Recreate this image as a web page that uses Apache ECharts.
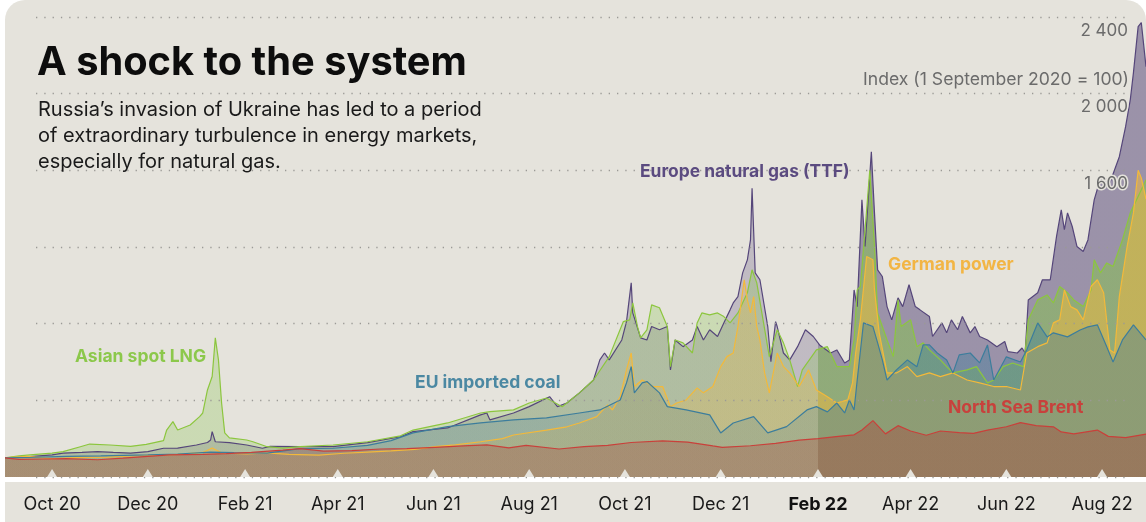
<!DOCTYPE html>
<html><head><meta charset="utf-8">
<script src="https://cdn.jsdelivr.net/npm/echarts@6/dist/echarts.min.js"></script>
<style>html,body{margin:0;padding:0;background:#ffffff;}#c{width:1146px;height:522px;}</style>
</head><body><div id="c"></div>
<script>
const START = '2020-09-01', END = '2022-08-29', SHADE_FROM = '2022-02-01';
const tickDates = ['2020-10-01','2020-12-01','2021-02-01','2021-04-01','2021-06-01','2021-08-01','2021-10-01','2021-12-01','2022-02-01','2022-04-01','2022-06-01','2022-08-01'];
const tickLabels = ['Oct 20','Dec 20','Feb 21','Apr 21','Jun 21','Aug 21','Oct 21','Dec 21','Feb 22','Apr 22','Jun 22','Aug 22'];
const yShown = [1600, 2000, 2400];

const ttf = [['2020-09-01',100],['2020-09-10',104],['2020-09-17',106],['2020-10-01',115],['2020-10-08',125],['2020-10-20',128],['2020-10-30',132],['2020-11-09',128],['2020-11-20',125],['2020-12-01',132],['2020-12-11',150],['2020-12-20',151],['2021-01-01',167],['2021-01-08',180],['2021-01-10',193],['2021-01-11',237],['2021-01-13',184],['2021-01-22',179],['2021-02-02',167],['2021-02-12',150],['2021-02-17',160],['2021-03-08',158],['2021-03-29',158],['2021-04-20',179],['2021-05-11',210],['2021-05-19',237],['2021-06-10',256],['2021-07-01',324],['2021-07-05',334],['2021-07-07',298],['2021-07-22',334],['2021-08-01',367],['2021-08-14',419],['2021-08-19',367],['2021-08-25',386],['2021-09-02',439],['2021-09-11',506],['2021-09-15',611],['2021-09-18',647],['2021-09-21',611],['2021-09-29',715],['2021-10-02',811],['2021-10-05',1013],['2021-10-06',856],['2021-10-11',726],['2021-10-15',715],['2021-10-18',785],['2021-10-23',768],['2021-10-28',785],['2021-10-30',559],['2021-11-02',715],['2021-11-07',680],['2021-11-13',715],['2021-11-16',785],['2021-11-20',715],['2021-11-24',768],['2021-11-29',733],['2021-12-03',804],['2021-12-07',872],['2021-12-09',908],['2021-12-12',941],['2021-12-15',1065],['2021-12-18',1133],['2021-12-20',1237],['2021-12-21',1507],['2021-12-23',1065],['2021-12-26',1029],['2021-12-31',785],['2022-01-02',602],['2022-01-05',811],['2022-01-06',785],['2022-01-10',647],['2022-01-14',611],['2022-01-19',680],['2022-01-24',768],['2022-01-29',733],['2022-02-02',689],['2022-02-09',647],['2022-02-13',663],['2022-02-18',595],['2022-02-21',611],['2022-02-24',976],['2022-02-26',889],['2022-03-01',1446],['2022-03-03',1203],['2022-03-07',1697],['2022-03-09',1378],['2022-03-11',1081],['2022-03-14',1046],['2022-03-17',889],['2022-03-20',820],['2022-03-24',935],['2022-03-27',889],['2022-03-31',1003],['2022-04-04',889],['2022-04-07',872],['2022-04-13',837],['2022-04-15',733],['2022-04-21',804],['2022-04-24',752],['2022-04-27',820],['2022-05-01',768],['2022-05-04',837],['2022-05-09',752],['2022-05-12',785],['2022-05-15',733],['2022-05-20',715],['2022-05-26',680],['2022-05-31',707],['2022-06-02',654],['2022-06-08',647],['2022-06-11',673],['2022-06-13',647],['2022-06-15',924],['2022-06-21',961],['2022-06-24',1029],['2022-06-29',1029],['2022-07-03',1255],['2022-07-06',1394],['2022-07-08',1290],['2022-07-10',1378],['2022-07-13',1307],['2022-07-16',1203],['2022-07-20',1177],['2022-07-23',1237],['2022-07-27',1446],['2022-07-30',1530],['2022-08-02',1567],['2022-08-06',1535],['2022-08-12',1671],['2022-08-16',1828],['2022-08-19',1969],['2022-08-21',2110],['2022-08-24',2350],['2022-08-26',2371],['2022-08-29',2141]];

const lng = [['2020-09-01',100],['2020-09-10',110],['2020-09-17',115],['2020-10-01',125],['2020-10-08',132],['2020-10-19',158],['2020-10-25',172],['2020-11-07',167],['2020-11-20',160],['2020-11-30',170],['2020-12-11',190],['2020-12-13',245],['2020-12-17',289],['2020-12-20',245],['2020-12-28',271],['2021-01-03',315],['2021-01-05',334],['2021-01-08',454],['2021-01-11',524],['2021-01-13',726],['2021-01-15',611],['2021-01-17',386],['2021-01-19',230],['2021-01-22',204],['2021-02-02',193],['2021-02-06',184],['2021-02-15',158],['2021-02-25',151],['2021-03-08',158],['2021-03-29',167],['2021-04-20',184],['2021-05-11',215],['2021-05-19',245],['2021-06-10',282],['2021-07-01',334],['2021-07-07',341],['2021-07-22',350],['2021-08-01',386],['2021-08-12',412],['2021-08-22',367],['2021-09-02',439],['2021-09-11',506],['2021-09-21',628],['2021-09-30',811],['2021-10-04',820],['2021-10-06',908],['2021-10-09',785],['2021-10-11',726],['2021-10-15',768],['2021-10-18',898],['2021-10-23',883],['2021-10-28',785],['2021-10-30',576],['2021-11-02',715],['2021-11-07',700],['2021-11-13',647],['2021-11-16',804],['2021-11-19',856],['2021-11-24',846],['2021-11-29',856],['2021-12-03',837],['2021-12-07',804],['2021-12-12',856],['2021-12-18',961],['2021-12-21',1081],['2021-12-24',1013],['2021-12-28',820],['2022-01-01',628],['2022-01-06',768],['2022-01-10',700],['2022-01-14',611],['2022-01-19',472],['2022-01-22',559],['2022-01-31',663],['2022-02-07',680],['2022-02-13',576],['2022-02-21',576],['2022-02-24',715],['2022-02-26',976],['2022-02-28',994],['2022-03-03',1290],['2022-03-06',1600],['2022-03-09',1203],['2022-03-11',856],['2022-03-17',715],['2022-03-21',628],['2022-03-24',924],['2022-03-26',785],['2022-04-01',820],['2022-04-05',680],['2022-04-09',700],['2022-04-13',663],['2022-04-20',611],['2022-04-24',576],['2022-04-28',543],['2022-05-07',559],['2022-05-13',576],['2022-05-20',491],['2022-05-24',506],['2022-05-30',576],['2022-06-05',595],['2022-06-12',576],['2022-06-15',820],['2022-06-21',924],['2022-06-27',950],['2022-07-01',908],['2022-07-05',994],['2022-07-10',961],['2022-07-14',924],['2022-07-20',889],['2022-07-25',976],['2022-07-27',1133],['2022-07-31',1065],['2022-08-04',1117],['2022-08-08',1098],['2022-08-14',1237],['2022-08-19',1378],['2022-08-23',1446],['2022-08-29',1551]];

const power = [['2020-09-01',100],['2020-09-15',108],['2020-10-01',96],['2020-10-20',102],['2020-11-05',104],['2020-11-20',110],['2020-12-05',114],['2020-12-20',118],['2021-01-05',128],['2021-01-11',151],['2021-01-17',126],['2021-02-02',120],['2021-02-15',126],['2021-03-01',118],['2021-03-20',114],['2021-04-05',124],['2021-04-20',130],['2021-05-05',136],['2021-05-20',144],['2021-06-02',158],['2021-06-15',168],['2021-07-01',184],['2021-07-15',200],['2021-07-22',219],['2021-08-12',245],['2021-08-25',262],['2021-09-02',282],['2021-09-13',315],['2021-09-17',350],['2021-09-20',376],['2021-09-23',350],['2021-09-28',419],['2021-10-02',559],['2021-10-05',647],['2021-10-07',472],['2021-10-12',506],['2021-10-19',472],['2021-10-25',472],['2021-10-30',367],['2021-11-03',386],['2021-11-09',402],['2021-11-16',465],['2021-11-20',439],['2021-11-26',472],['2021-12-01',576],['2021-12-05',628],['2021-12-09',647],['2021-12-12',785],['2021-12-16',1029],['2021-12-18',924],['2021-12-20',856],['2021-12-22',941],['2021-12-24',785],['2021-12-26',715],['2021-12-29',543],['2022-01-01',439],['2022-01-06',647],['2022-01-10',576],['2022-01-14',543],['2022-01-20',472],['2022-01-26',559],['2022-01-31',454],['2022-02-07',419],['2022-02-13',386],['2022-02-20',402],['2022-02-23',491],['2022-02-25',647],['2022-02-28',820],['2022-03-04',1150],['2022-03-08',1133],['2022-03-09',976],['2022-03-12',752],['2022-03-17',543],['2022-03-23',543],['2022-03-30',576],['2022-04-05',524],['2022-04-13',543],['2022-04-20',524],['2022-04-28',543],['2022-05-07',506],['2022-05-15',491],['2022-05-24',472],['2022-06-01',472],['2022-06-10',454],['2022-06-14',647],['2022-06-21',680],['2022-06-27',700],['2022-07-01',804],['2022-07-05',820],['2022-07-08',976],['2022-07-12',889],['2022-07-16',872],['2022-07-20',820],['2022-07-25',994],['2022-07-29',1029],['2022-08-02',961],['2022-08-06',663],['2022-08-09',647],['2022-08-12',941],['2022-08-17',1203],['2022-08-21',1378],['2022-08-24',1600],['2022-08-26',1560],['2022-08-29',1450]];

const coal = [['2020-09-01',100],['2020-09-20',103],['2020-10-10',108],['2020-11-01',110],['2020-12-01',115],['2020-12-20',120],['2021-01-10',130],['2021-01-25',127],['2021-02-15',125],['2021-03-08',148],['2021-03-29',150],['2021-04-20',165],['2021-05-05',190],['2021-05-19',230],['2021-06-10',263],['2021-07-01',282],['2021-07-22',298],['2021-08-12',308],['2021-09-02',334],['2021-09-15',350],['2021-09-28',402],['2021-10-02',491],['2021-10-05',576],['2021-10-07',439],['2021-10-12',491],['2021-10-15',498],['2021-10-23',439],['2021-10-28',367],['2021-11-09',350],['2021-11-24',324],['2021-12-01',230],['2021-12-09',282],['2021-12-22',315],['2021-12-31',230],['2022-01-12',263],['2022-01-25',350],['2022-01-31',367],['2022-02-07',340],['2022-02-13',386],['2022-02-18',334],['2022-02-21',402],['2022-02-24',350],['2022-02-26',506],['2022-03-02',804],['2022-03-08',785],['2022-03-11',700],['2022-03-14',611],['2022-03-17',506],['2022-03-23',559],['2022-03-30',611],['2022-04-05',575],['2022-04-09',689],['2022-04-13',689],['2022-04-18',647],['2022-04-24',611],['2022-04-28',543],['2022-05-02',637],['2022-05-09',647],['2022-05-15',595],['2022-05-20',689],['2022-05-24',506],['2022-06-01',627],['2022-06-10',600],['2022-06-14',663],['2022-06-21',804],['2022-06-27',731],['2022-07-01',752],['2022-07-10',731],['2022-07-18',767],['2022-07-23',783],['2022-07-29',794],['2022-08-04',679],['2022-08-08',600],['2022-08-14',715],['2022-08-21',794],['2022-08-29',715]];

const brent = [['2020-09-01',100],['2020-09-10',92],['2020-09-25',94],['2020-10-10',96],['2020-10-30',90],['2020-11-15',98],['2020-12-01',108],['2020-12-15',115],['2021-01-05',118],['2021-01-20',122],['2021-02-05',128],['2021-02-25',140],['2021-03-08',148],['2021-03-23',135],['2021-04-10',138],['2021-04-28',146],['2021-05-15',148],['2021-06-02',155],['2021-06-20',162],['2021-07-05',168],['2021-07-19',152],['2021-07-30',165],['2021-08-20',146],['2021-09-05',158],['2021-09-20',165],['2021-10-05',180],['2021-10-25',188],['2021-11-10',182],['2021-11-26',162],['2021-12-02',155],['2021-12-20',163],['2022-01-05',175],['2022-01-20',192],['2022-02-01',200],['2022-02-14',212],['2022-02-24',220],['2022-03-01',245],['2022-03-08',294],['2022-03-16',225],['2022-03-24',268],['2022-04-01',240],['2022-04-11',218],['2022-04-20',240],['2022-05-02',232],['2022-05-11',228],['2022-05-20',245],['2022-06-01',262],['2022-06-10',284],['2022-06-20',268],['2022-07-01',262],['2022-07-06',235],['2022-07-14',225],['2022-07-29',245],['2022-08-05',212],['2022-08-16',205],['2022-08-29',224]];

const t = s => new Date(s + 'T00:00:00').getTime();
const f = (t(SHADE_FROM) - t(START)) / (t(END) - t(START));
const BG = '#e5e3dc';
const FONT = 'Inter, "Noto Sans", sans-serif';

function rgba(hex, a) {
  const n = parseInt(hex.slice(1), 16);
  return 'rgba(' + (n >> 16 & 255) + ',' + (n >> 8 & 255) + ',' + (n & 255) + ',' + a + ')';
}
function areaSeries(name, data, color, fillColor, aPre, aPost) {
  return {
    name, type: 'line', data: data.map(p => [t(p[0]), p[1]]), xAxisIndex: 0, yAxisIndex: 0,
    showSymbol: false, symbol: 'none', silent: true,
    lineStyle: { color, width: 1.2 },
    areaStyle: { opacity: 1, color: new echarts.graphic.LinearGradient(0, 0, 1, 0, [
      { offset: 0, color: rgba(fillColor, aPre) }, { offset: f, color: rgba(fillColor, aPre) },
      { offset: f, color: rgba(fillColor, aPost) }, { offset: 1, color: rgba(fillColor, aPost) }]) }
  };
}

const chart = echarts.init(document.getElementById('c'), null, { renderer: 'canvas' });
const tickTs = tickDates.map(t);
const labelMap = {}; tickTs.forEach((v, i) => labelMap[v] = tickLabels[i]);

chart.setOption({
  animation: false,
  backgroundColor: '#ffffff',
  textStyle: { fontFamily: FONT },
  grid: [
    { left: 5, right: 0, top: 17, bottom: 45 },
    { left: 36, right: 16, top: 17, bottom: 45 }
  ],
  xAxis: [
    { type: 'value', gridIndex: 0, min: t(START), max: t(END), scale: true,
      axisLine: { show: false }, axisTick: { show: false }, splitLine: { show: false },
      axisLabel: { customValues: tickTs, margin: 19, fontSize: 18, color: '#1a1a1a', fontFamily: FONT,
        hideOverlap: false, showMinLabel: true, showMaxLabel: true,
        formatter: v => { const l = labelMap[v] || ''; return l === 'Feb 22' ? '{b|' + l + '}' : l; },
        rich: { b: { fontWeight: 'bold', fontSize: 18, color: '#111', fontFamily: FONT } } } },
    { type: 'value', gridIndex: 1, show: false, min: 0, max: 1 }
  ],
  yAxis: [
    { type: 'value', gridIndex: 0, min: 0, max: 2400, interval: 400, show: false },
    { type: 'value', gridIndex: 1, min: 0, max: 2400, interval: 400, position: 'right', z: 10,
      axisLine: { show: false }, axisTick: { show: false },
      splitLine: { show: true, lineStyle: { color: '#9b9a96', width: 1.3, type: [1.3, 7] } },
      axisLabel: { inside: true, margin: 2, fontSize: 17, color: '#6b6b6b', fontFamily: FONT,
        verticalAlign: 'top', padding: [5, 0, 0, 0], textBorderColor: BG, textBorderWidth: 3,
        formatter: v => yShown.includes(v) ? String(v).replace(/\B(?=(\d{3})+(?!\d))/g, ' ') : '' } }
  ],
  graphic: [
    { type: 'rect', z: -10, silent: true, shape: { x: 5, y: 0, width: 1141, height: 477, r: [20, 20, 0, 0] }, style: { fill: BG } },
    { type: 'rect', z: -10, silent: true, shape: { x: 5, y: 482, width: 1141, height: 40 }, style: { fill: BG } },
    { type: 'text', z: 100, silent: true, style: { text: 'A shock to the system', x: 37, y: 63, font: 'bold 39.8px ' + FONT, fill: '#0d0d0d', textVerticalAlign: 'middle' } },
    { type: 'text', z: 100, silent: true, style: { text: 'Russia\u2019s invasion of Ukraine has led to a period\nof extraordinary turbulence in energy markets,\nespecially for natural gas.', x: 38, y: 97, font: '20px ' + FONT, lineHeight: 26, fill: '#1a1a1a', textVerticalAlign: 'top' } },
    { type: 'text', z: 100, silent: true, style: { text: 'Index (1 September 2020 = 100)', x: 1129, y: 80, font: '17.6px ' + FONT, fill: '#6b6b6b', textAlign: 'right', textVerticalAlign: 'middle' } },
    { type: 'text', z: 100, silent: true, style: { text: 'Europe natural gas (TTF)', x: 640, y: 172, font: 'bold 17.4px ' + FONT, fill: '#5b4b80', textVerticalAlign: 'middle' } },
    { type: 'text', z: 100, silent: true, style: { text: 'German power', x: 888, y: 265, font: 'bold 17.5px ' + FONT, fill: '#f2b544', textVerticalAlign: 'middle' } },
    { type: 'text', z: 100, silent: true, style: { text: 'Asian spot LNG', x: 75, y: 357, font: 'bold 17.5px ' + FONT, fill: '#8cc84b', textVerticalAlign: 'middle' } },
    { type: 'text', z: 100, silent: true, style: { text: 'EU imported coal', x: 415, y: 383, font: 'bold 17.5px ' + FONT, fill: '#4b88a2', textVerticalAlign: 'middle' } },
    { type: 'text', z: 100, silent: true, style: { text: 'North Sea Brent', x: 948, y: 408, font: 'bold 17.5px ' + FONT, fill: '#c8413c', textVerticalAlign: 'middle' } }
  ],
  series: [
    areaSeries('Europe natural gas (TTF)', ttf, '#55467a', '#57487a', 0.26, 0.52),
    areaSeries('Asian spot LNG', lng, '#8cc63e', '#86c34b', 0.28, 0.5),
    areaSeries('German power', power, '#f3b93a', '#f2b83c', 0.25, 0.5),
    areaSeries('EU imported coal', coal, '#3c7d9c', '#3f7d9b', 0.2, 0.4),
    areaSeries('North Sea Brent', brent, '#c9403a', '#a6463c', 0.31, 0.4),
    { type: 'scatter', xAxisIndex: 0, yAxisIndex: 0, silent: true, z: 20, clip: false,
      symbol: 'triangle', symbolSize: [10, 8], symbolOffset: [0, -4],
      itemStyle: { color: BG, opacity: 1 },
      data: tickTs.map(d => [d, 0]) }
  ]
});
</script></body></html>
